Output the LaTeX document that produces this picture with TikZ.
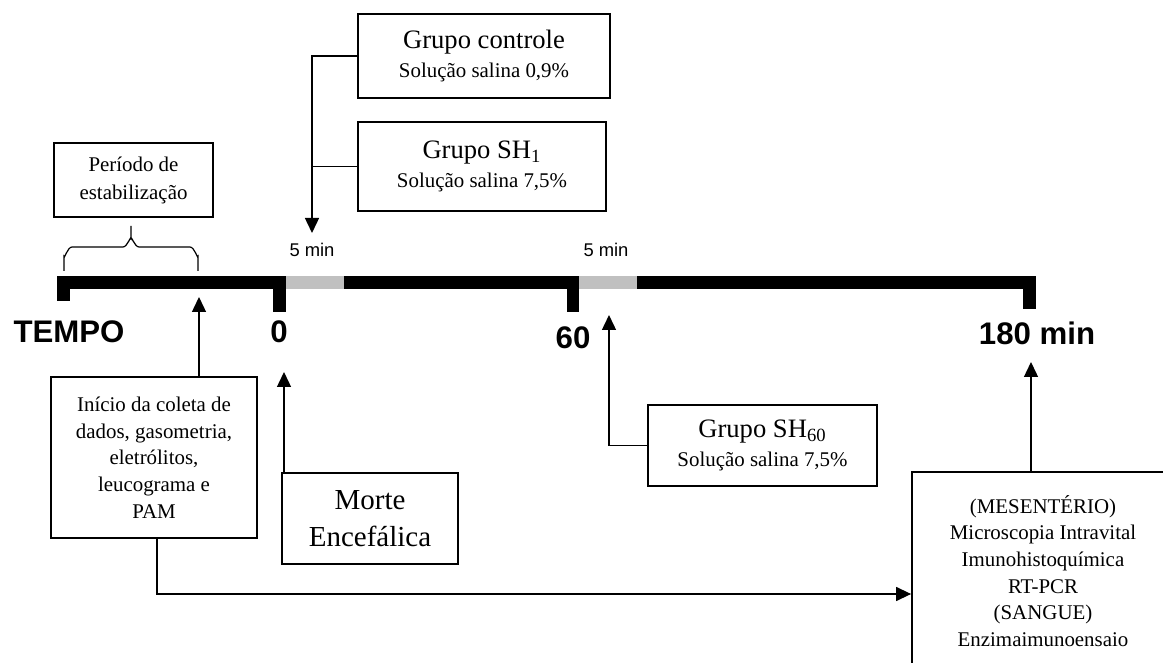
\documentclass[tikz,border=0pt]{standalone}
\usepackage{fontspec}
\setmainfont{Liberation Serif}
\newfontfamily\arial{Liberation Sans}
\usetikzlibrary{arrows.meta}
\definecolor{cinza}{HTML}{C0C0C0}
\tikzset{
  caixa/.style={draw, line width=0.9pt, align=center, inner sep=0pt, font=\fontsize{10.45}{13.35}\selectfont},
  grupo/.style={caixa, font=\fontsize{10.45}{14.5}\selectfont},
  seta/.style={line width=0.7pt, -{Triangle[width=7pt,length=7.5pt]}},
  marca/.style={font=\arial\bfseries\fontsize{15.6}{18}\selectfont, inner sep=0pt},
  dur/.style={font=\arial\fontsize{9.2}{11}\selectfont, inner sep=0pt},
}
\begin{document}
\begin{tikzpicture}[x=0.5pt,y=-0.5pt]
\useasboundingbox (0,0) rectangle (1163,663);
% linha do tempo
\fill (57,276) rectangle (1036,289);
\fill[cinza] (286,276) rectangle (344,289);
\fill[cinza] (579,276) rectangle (637,289);
\fill (57,276) rectangle (70,301);
\fill (273,276) rectangle (286,312);
\fill (567,276) rectangle (579,312);
\fill (1023,276) rectangle (1036,309);

\node[marca] (tempo) at (69,332) {TEMPO};
\node[marca] (t0) at (279,332) {0};
\node[marca] (t60) at (573,338) {60};
\node[marca] (t180) at (1037,333) {180 min};
\node[dur] (dur1) at (312,250) {5 min};
\node[dur] (dur2) at (606,250) {5 min};

% caixas
\node[grupo, minimum width=126pt, minimum height=42pt] (controle) at (484,56)
  {{\fontsize{13.3}{14.5}\selectfont Grupo controle}\\ Solução salina 0,9\%};
\node[grupo, minimum width=124pt, minimum height=44.5pt] (sh1) at (482,166.5)
  {{\fontsize{13.3}{14.5}\selectfont Grupo SH\textsubscript{1}}\\ Solução salina 7,5\%};
\node[grupo, minimum width=114.5pt, minimum height=40.5pt] (sh60) at (762.5,445.5)
  {{\fontsize{13.3}{14.5}\selectfont Grupo SH\textsubscript{60}}\\ Solução salina 7,5\%};
\node[caixa, font=\fontsize{10.45}{14}\selectfont, minimum width=79.5pt, minimum height=37pt] (periodo) at (133.5,180)
  {Período de\\ estabilização};
\node[caixa, minimum width=103pt, minimum height=80.5pt] (inicio) at (154,457.5)
  {Início da coleta de\\ dados, gasometria,\\ eletrólitos,\\ leucograma e\\ PAM};
\node[caixa, font=\fontsize{14.5}{18.5}\selectfont, minimum width=88pt, minimum height=45.5pt] (morte) at (370,518.5)
  {Morte\\ Encefálica};
\node[caixa, minimum width=131pt, minimum height=99pt] (analise) at (1043,571)
  {(MESENTÉRIO)\\ Microscopia Intravital\\ Imunohistoquímica\\ RT-PCR\\ (SANGUE)\\ Enzimaimunoensaio};

% chave
\draw[line width=0.6pt] (64,271) -- (64,256) to[out=-90,in=180] (72,247) -- (123,247)
  to[out=0,in=90] (131,239) -- (131,226);
\draw[line width=0.6pt] (131,239) to[out=90,in=180] (139,247) -- (190,247)
  to[out=0,in=-90] (198,256) -- (198,271);

% setas
\coordinate (c5) at (312,233);
\coordinate (cinicio) at (199,297);
\coordinate (cmorte) at (284,372);
\coordinate (c60) at (609,315);
\coordinate (c180) at (1031,362);
\coordinate (cbase) at (157,594);
\draw[seta] (controle.west) -| (c5);
\draw[line width=0.7pt] (sh1.west) -- (sh1.west -| c5);
\draw[seta] (cinicio |- inicio.north) -- (cinicio);
\draw[seta] (cmorte |- morte.north) -- (cmorte);
\draw[seta] (sh60.west) -| (c60);
\draw[seta] (c180 |- analise.north) -- (c180);
\draw[seta] (cbase |- inicio.south) -- (cbase) -- (cbase -| analise.west);
\end{tikzpicture}
\end{document}
